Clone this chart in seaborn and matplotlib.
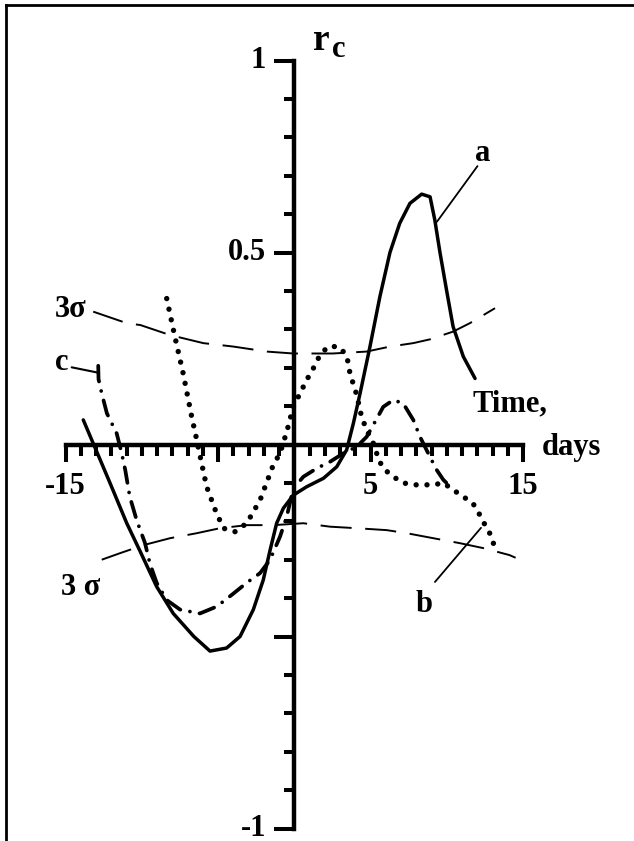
import numpy as np
import pandas as pd
import matplotlib
matplotlib.use("Agg")
import matplotlib.pyplot as plt
import seaborn as sns
from matplotlib.lines import Line2D
from matplotlib.ticker import FixedLocator

sns.set_style("white")
plt.rcParams["font.family"] = ["Liberation Serif", "DejaVu Serif"]
plt.rcParams["font.weight"] = "bold"
plt.rcParams["text.color"] = "black"
plt.rcParams["xtick.color"] = "black"
plt.rcParams["ytick.color"] = "black"

# ---- cross-correlation curves (time lag in days vs r_c) ----
a_days = [-13.85, -13.2, -12.1, -11.0, -10.1, -9.04, -7.95, -6.6, -5.54, -4.45,
          -3.57, -2.7, -2.05, -1.6, -1.17, -0.73, -0.08, 0.8, 1.9, 2.77, 3.42,
          3.86, 4.3, 4.95, 5.6, 6.26, 6.9, 7.57, 8.34, 8.89, 9.2, 9.54, 9.98,
          10.4, 11.07, 11.84]
a_rc = [0.064, 0.003, -0.10, -0.205, -0.28, -0.37, -0.44, -0.50, -0.538, -0.53,
        -0.50, -0.43, -0.353, -0.275, -0.205, -0.166, -0.132, -0.11, -0.088,
        -0.058, -0.014, 0.055, 0.133, 0.255, 0.385, 0.50, 0.576, 0.628, 0.652,
        0.645, 0.585, 0.50, 0.40, 0.307, 0.229, 0.172]

b_days = [-8.38, -7.84, -7.3, -6.74, -6.41, -6.09, -5.76, -5.2, -4.67, -3.9,
          -3.13, -2.26, -1.39, -0.95, -0.51, -0.08, 0.36, 0.8, 1.23, 1.67, 2.2,
          2.87, 3.42, 3.64, 4.08, 4.4, 4.73, 5.28, 5.5, 5.93, 6.48, 7.13, 7.79,
          8.45, 9.1, 9.76, 10.4, 11.07, 11.7, 12.16, 12.5, 12.8, 13.04, 13.26]
b_rc = [0.38, 0.28, 0.185, 0.072, 0.012, -0.049, -0.11, -0.17, -0.218, -0.227,
        -0.205, -0.145, -0.053, -0.023, 0.033, 0.098, 0.133, 0.168, 0.198, 0.233,
        0.255, 0.255, 0.233, 0.185, 0.129, 0.072, 0.038, -0.006, -0.04, -0.066,
        -0.084, -0.10, -0.105, -0.105, -0.105, -0.10, -0.118, -0.136, -0.153,
        -0.184, -0.21, -0.231, -0.257, -0.275]

c_days = [-12.87, -12.85, -12.64, -12.3, -11.66, -11.33, -11.1, -10.8, -10.35,
          -9.8, -9.48, -9.04, -8.38, -7.5, -6.2, -5.1, -4.0, -3.13, -2.26, -1.6,
          -0.95, -0.51, -0.08, 0.58, 1.46, 2.33, 3.2, 4.08, 4.73, 5.28, 5.82,
          6.48, 7.13, 7.79, 8.23, 8.77, 9.32, 9.76, 10.1]
c_rc = [0.205, 0.17, 0.133, 0.081, 0.029, -0.023, -0.066, -0.136, -0.197, -0.257,
        -0.31, -0.36, -0.405, -0.43, -0.44, -0.422, -0.388, -0.36, -0.335, -0.30,
        -0.24, -0.188, -0.115, -0.084, -0.062, -0.045, -0.023, -0.006, 0.02,
        0.059, 0.098, 0.116, 0.107, 0.064, 0.02, -0.023, -0.066, -0.092, -0.105]

# ---- 3-sigma significance levels ----
sig_up_days = [-13.2, -11.0, -10.1, -8.16, -5.98, -4.0, -1.82, -0.08, 2.5, 4.73,
               6.26, 7.79, 8.9, 10.4, 11.5, 13.15]
sig_up_rc = [0.346, 0.316, 0.311, 0.285, 0.264, 0.255, 0.242, 0.237, 0.237,
             0.242, 0.255, 0.264, 0.274, 0.294, 0.316, 0.355]
sig_lo_days = [-12.64, -11.44, -9.9, -8.16, -6.41, -4.89, -3.13, -1.39, 0.58,
               2.33, 4.08, 6.05, 7.36, 9.1, 10.85, 12.4, 14.1, 14.5]
sig_lo_rc = [-0.30, -0.283, -0.262, -0.244, -0.231, -0.218, -0.21, -0.21, -0.205,
             -0.214, -0.218, -0.223, -0.231, -0.244, -0.257, -0.27, -0.288, -0.295]

# ---- axis ticks ----
x_major = [-15, -5, 5, 15]
x_major_labels = ["-15", "", "5", "15"]
x_minor = [d for d in range(-15, 16) if d not in (-15, -5, 0, 5, 15)]
y_major = [-1.0, -0.5, 0.5, 1.0]
y_major_labels = ["-1", "", "0.5", "1"]
y_minor = [round(v / 10, 1) for v in range(-10, 11) if v not in (-10, -5, 0, 5, 10)]

LABEL_FS = 22

fig = plt.figure(figsize=(6.34, 8.41), dpi=100)
ax = fig.add_axes([0.1037, 0.01486, 0.7216, 0.9132])
ax.set_xlim(-15, 15)
ax.set_ylim(-1, 1)


def draw(days, rc, lw, style=None, cap="butt"):
    df = pd.DataFrame({"days": days, "rc": rc})
    sns.lineplot(data=df, x="days", y="rc", ax=ax, color="black", lw=lw,
                 sort=False, estimator=None)
    ln = ax.lines[-1]
    if style is not None:
        ln.set_linestyle(style)
    ln.set_dash_capstyle(cap)
    ln.set_solid_capstyle("round")
    ln.set_solid_joinstyle("round")
    ln.set_clip_on(False)
    return ln


draw(sig_up_days, sig_up_rc, 1.4, (0, (16, 7)))
draw(sig_lo_days, sig_lo_rc, 1.4, (0, (16, 7)))
draw(a_days, a_rc, 2.5)
draw(b_days, b_rc, 3.9, (0, (0.001, 2.0)), cap="round")
draw(c_days, c_rc, 2.7, (0, (4.2, 2.6, 0.001, 2.6)), cap="round")

# leader lines from the curve letters
ax.plot([12.0, 9.34], [0.725, 0.58], color="black", lw=1.3, clip_on=False)
ax.plot([9.21, 12.23], [-0.358, -0.217], color="black", lw=1.3, clip_on=False)
ax.plot([-14.61, -12.87], [0.201, 0.187], color="black", lw=1.5, clip_on=False)

# axes crossing at the origin
for side in ("top", "right"):
    ax.spines[side].set_visible(False)
ax.spines["left"].set_position(("data", 0))
ax.spines["bottom"].set_position(("data", 0))
for side in ("left", "bottom"):
    ax.spines[side].set_linewidth(3.2)
    ax.spines[side].set_color("black")
    ax.spines[side].set_capstyle("projecting")

ax.set_xticks(x_major)
ax.set_xticklabels(x_major_labels)
ax.xaxis.set_minor_locator(FixedLocator(x_minor))
ax.set_yticks(y_major)
ax.set_yticklabels(y_major_labels)
ax.yaxis.set_minor_locator(FixedLocator(y_minor))
ax.tick_params(axis="x", which="both", bottom=True, top=False)
ax.tick_params(axis="y", which="both", left=True, right=False)
ax.tick_params(axis="x", which="major", direction="out", length=12, width=2.9,
               pad=8, labelsize=LABEL_FS, color="black", labelcolor="black")
ax.tick_params(axis="x", which="minor", direction="out", length=8, width=2.9,
               color="black")
ax.tick_params(axis="y", which="major", direction="out", length=14.5, width=2.9,
               pad=6, labelsize=LABEL_FS, color="black", labelcolor="black")
ax.tick_params(axis="y", which="minor", direction="out", length=7.5, width=2.9,
               color="black")
for lbl in ax.get_xticklabels() + ax.get_yticklabels():
    lbl.set_fontweight("bold")
for lbl in ax.get_yticklabels():
    lbl.set_verticalalignment("center")
ax.set_xlabel("")
ax.set_ylabel("")
ax.grid(False)

# axis titles
ax.text(1.21, 1.027, "r", fontsize=27, fontweight="bold", ha="left", va="baseline")
ax.text(2.46, 1.009, "c", fontsize=22, fontweight="bold", ha="left", va="baseline")
ax.text(11.64, 0.085, "Time,", fontsize=LABEL_FS, fontweight="bold",
        ha="left", va="baseline")
ax.text(16.23, -0.027, "days", fontsize=LABEL_FS, fontweight="bold",
        ha="left", va="baseline")

# curve and level labels
ax.text(12.36, 0.738, "a", fontsize=LABEL_FS, fontweight="bold", ha="center", va="baseline")
ax.text(8.49, -0.436, "b", fontsize=LABEL_FS, fontweight="bold", ha="center", va="baseline")
ax.text(-15.28, 0.194, "c", fontsize=LABEL_FS, fontweight="bold", ha="center", va="baseline")
ax.text(-14.65, 0.332, "3σ", fontsize=LABEL_FS, fontweight="bold", ha="center", va="baseline")
ax.text(-14.0, -0.392, "3 σ", fontsize=LABEL_FS, fontweight="bold", ha="center", va="baseline")

# page frame (top and left edges)
fx = 6 / 634
fy = 1 - 5.3 / 841
fig.add_artist(Line2D([fx, fx], [-0.01, fy], transform=fig.transFigure,
                      color="black", lw=2.0, solid_capstyle="projecting"))
fig.add_artist(Line2D([fx, 1.01], [fy, fy], transform=fig.transFigure,
                      color="black", lw=2.0, solid_capstyle="projecting"))

fig.savefig("out.png", dpi=100, facecolor="white")
